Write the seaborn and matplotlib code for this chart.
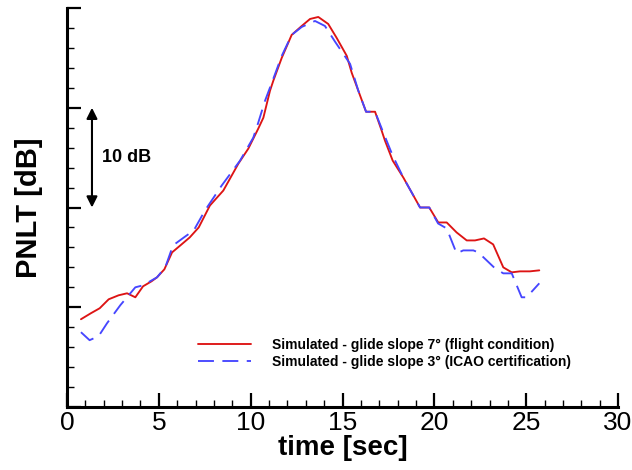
import numpy as np
import pandas as pd
import matplotlib
matplotlib.use("Agg")
import matplotlib.pyplot as plt
from matplotlib.ticker import MultipleLocator, NullFormatter
import seaborn as sns

# ---- data (PNLT relative to an arbitrary reference, dB) ----
label_7deg = "Simulated - glide slope 7° (flight condition)"
label_3deg = "Simulated - glide slope 3° (ICAO certification)"

time_7deg = [0.76, 1.3, 1.78, 2.27, 2.81, 3.27, 3.72, 4.14, 4.6, 4.9, 5.3, 5.72, 6.17,
             6.68, 7.17, 7.78, 8.51, 9.33, 9.87, 10.41, 10.69, 11.05, 11.23, 11.69,
             12.23, 12.78, 13.23, 13.68, 14.22, 14.68, 15.23, 15.5, 15.86, 16.28,
             16.77, 17.13, 17.31, 17.73, 18.31, 19.22, 19.72, 20.21, 20.67, 21.21,
             21.76, 22.21, 22.7, 23.2, 23.75, 24.21, 24.66, 25.2, 25.71]
pnlt_7deg = [8.8, 9.4, 9.9, 10.8, 11.2, 11.4, 11.0, 12.1, 12.6, 13.0, 13.8, 15.5, 16.2,
             17.0, 18.0, 20.2, 21.7, 24.4, 25.9, 27.9, 29.0, 31.7, 32.7, 35.0,
             37.3, 38.2, 38.9, 39.1, 38.4, 37.0, 35.2, 33.5, 31.7, 29.6,
             29.6, 27.7, 26.7, 24.7, 23.0, 20.0, 20.0, 18.5, 18.5, 17.5,
             16.7, 16.7, 16.9, 16.3, 14.0, 13.5, 13.6, 13.6, 13.7]

time_3deg = [0.76, 1.23, 1.72, 2.18, 2.9, 3.72, 4.14, 4.9, 5.35, 5.77, 6.44, 6.9, 7.51,
             8.42, 9.42, 10.14, 10.41, 10.78, 11.23, 11.69, 12.23, 12.78, 13.5, 14.04,
             14.6, 15.41, 15.86, 16.28, 16.77, 17.2, 17.73, 18.31, 19.22, 19.72, 20.2,
             20.67, 21.21, 21.57, 22.12, 22.39, 23.3, 23.75, 24.21, 24.75, 25.02, 25.71]
pnlt_3deg = [7.5, 6.7, 7.1, 8.4, 10.2, 12.0, 12.2, 13.0, 14.0, 16.2, 17.1, 17.7, 19.7,
             22.2, 24.7, 27.0, 28.5, 30.7, 32.9, 35.2, 37.3, 38.1, 38.7, 38.2,
             36.6, 34.4, 31.7, 29.6, 29.6, 27.6, 25.2, 23.0, 20.0, 20.0, 18.4,
             17.9, 15.4, 15.7, 15.7, 15.5, 13.9, 13.4, 13.4, 11.0, 11.0, 12.4]

scale_bar_db = 10
scale_bar_time = 1.36
scale_bar_bottom = 20.0

df = pd.concat([
    pd.DataFrame({"time": time_7deg, "pnlt": pnlt_7deg, "case": label_7deg}),
    pd.DataFrame({"time": time_3deg, "pnlt": pnlt_3deg, "case": label_3deg}),
], ignore_index=True)

sns.set_style("ticks")
plt.rcParams["font.family"] = ["Liberation Sans", "DejaVu Sans"]
plt.rcParams["text.color"] = "black"
plt.rcParams["axes.labelcolor"] = "black"
plt.rcParams["xtick.color"] = "black"
plt.rcParams["ytick.color"] = "black"

fig = plt.figure(figsize=(6.32, 4.70), dpi=100)
ax = fig.add_axes([0.106, 0.134, 0.872, 0.849])

sns.lineplot(data=df, x="time", y="pnlt", hue="case", style="case",
             palette={label_7deg: "#dd1414", label_3deg: "#4646ff"},
             dashes={label_7deg: "", label_3deg: (8.5, 4.5)},
             estimator=None, sort=False, linewidth=1.35, ax=ax)

ax.set_xlim(0, 30)
ax.set_ylim(0, 40)
ax.xaxis.set_major_locator(MultipleLocator(5))
ax.xaxis.set_minor_locator(MultipleLocator(1))
ax.yaxis.set_major_locator(MultipleLocator(10))
ax.yaxis.set_minor_locator(MultipleLocator(2))
ax.yaxis.set_major_formatter(NullFormatter())

for s in ["top", "right"]:
    ax.spines[s].set_visible(False)
for s in ["left", "bottom"]:
    ax.spines[s].set_linewidth(2.2)
    ax.spines[s].set_color("black")

ax.tick_params(which="major", direction="in", length=10, width=1.6, colors="black",
               labelsize=19, pad=3)
ax.tick_params(which="minor", direction="in", length=5, width=1.0, colors="black")

ax.set_xlabel("time [sec]", fontsize=20, fontweight="bold", labelpad=0)
ax.set_ylabel("PNLT [dB]", fontsize=21, fontweight="bold", labelpad=14)

# 10 dB scale bar
ax.annotate("", xy=(scale_bar_time, scale_bar_bottom + scale_bar_db),
            xytext=(scale_bar_time, scale_bar_bottom),
            arrowprops=dict(arrowstyle="<|-|>", color="black", lw=1.5,
                            mutation_scale=16, shrinkA=0, shrinkB=0))
ax.text(scale_bar_time + 0.55, scale_bar_bottom + scale_bar_db / 2, f"{scale_bar_db} dB",
        fontsize=13, fontweight="bold", va="center", ha="left")

handles, labels = ax.get_legend_handles_labels()
ax.legend(handles, labels, loc="upper left", bbox_to_anchor=(0.225, 0.19),
          frameon=False, prop={"weight": "bold", "size": 10},
          handlelength=3.8, handletextpad=1.5, labelspacing=0.2, borderpad=0)

fig.savefig("out.png", dpi=100)
